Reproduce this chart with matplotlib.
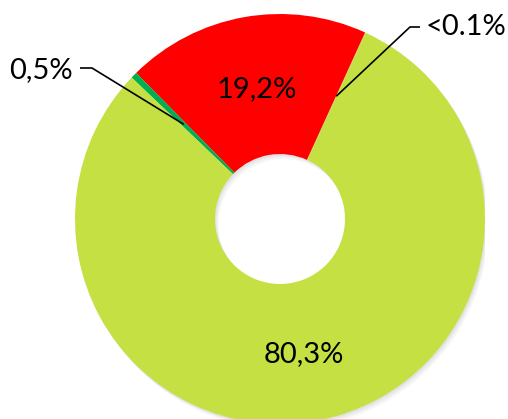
import numpy as np
import matplotlib
matplotlib.use("Agg")
import matplotlib.pyplot as plt
from matplotlib.patches import Wedge

# slice values, counter-clockwise from the red/green boundary at top right
labels = ["<0.1%", "19,2%", "0,5%", "80,3%"]
values = [0.05, 19.2, 0.5, 80.3]
colors = ["#C5E043", "#FF0000", "#00B050", "#C5E043"]

W, H = 508, 419
cx, cy, R = 280, 219, 205   # pie centre / radius in pixels


def to_data(px, py):
    return (px - cx) / R, (cy - py) / R


fig = plt.figure(figsize=(W / 100, H / 100), dpi=100)
ax = fig.add_axes([(cx - R) / W, (H - cy - R) / H, 2 * R / W, 2 * R / H])
ax.axis("off")

hole = 0.317

# soft shadow under the ring
for i, a in enumerate([0.10, 0.08, 0.06]):
    d = 0.006 * (i + 1)
    ax.add_patch(Wedge((d, -1.4 * d), 1, 0, 360, width=1 - hole,
                       facecolor="gray", alpha=a, linewidth=0))

wedges, _ = ax.pie(values, colors=colors, startangle=65.3, counterclock=True,
                   radius=1, wedgeprops=dict(width=1 - hole, linewidth=0),
                   frame=False)
ax.set_xlim(-1, 1)
ax.set_ylim(-1, 1)

fs = 21
mid_r = (1 + hole) / 2

# inside labels
x, y = to_data(257, 97)
ax.text(x, y, labels[1], ha="center", va="baseline", fontsize=fs, family="Lato")
x, y = to_data(304, 362)
ax.text(x, y, labels[3], ha="center", va="baseline", fontsize=fs, family="Lato")


def leader(w, elbow, end):
    ang = np.deg2rad((w.theta1 + w.theta2) / 2)
    ax_, ay_ = mid_r * np.cos(ang), mid_r * np.sin(ang)
    ex, ey = to_data(*elbow)
    tx, ty = to_data(*end)
    ax.plot([ax_, ex, tx], [ay_, ey, ey], color="black", lw=1.2,
            solid_capstyle="butt", clip_on=False)


# outside labels with leader lines
leader(wedges[2], (92, 68), (80, 68))
x, y = to_data(73, 78)
ax.text(x, y, labels[2], ha="right", va="baseline", fontsize=fs, family="Lato")

leader(wedges[0], (410, 27), (420, 27))
x, y = to_data(426, 35)
ax.text(x, y, labels[0], ha="left", va="baseline", fontsize=fs, family="Lato")

fig.savefig("out.png", dpi=100)
